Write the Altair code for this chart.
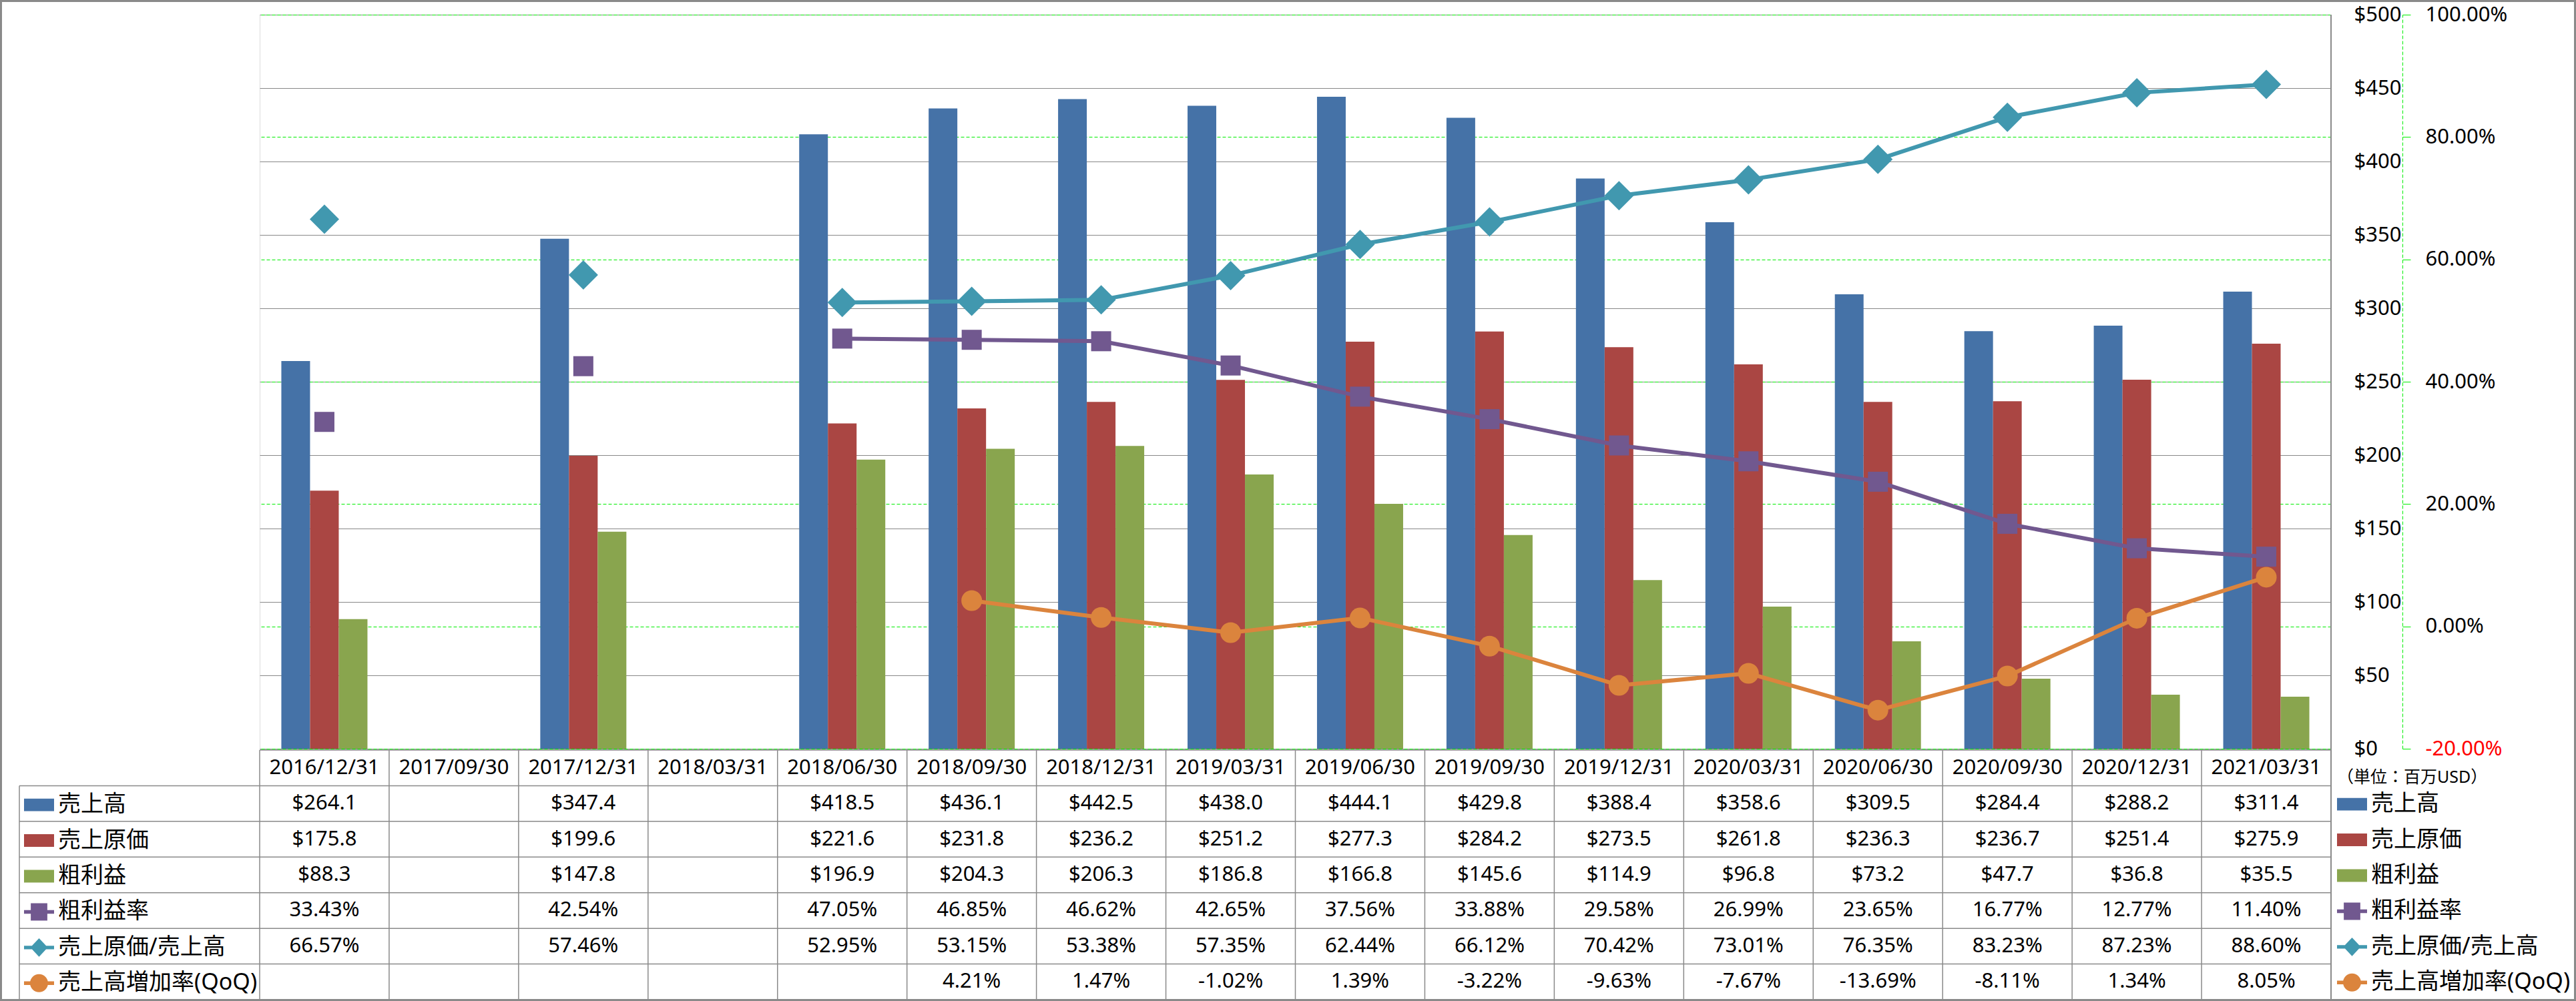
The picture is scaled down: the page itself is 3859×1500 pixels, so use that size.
import altair as alt
import pandas as pd

# ---------------- data ----------------
dates = ["2016/12/31", "2017/09/30", "2017/12/31", "2018/03/31", "2018/06/30",
         "2018/09/30", "2018/12/31", "2019/03/31", "2019/06/30", "2019/09/30",
         "2019/12/31", "2020/03/31", "2020/06/30", "2020/09/30", "2020/12/31",
         "2021/03/31"]
N = None
revenue = [264.1, N, 347.4, N, 418.5, 436.1, 442.5, 438.0, 444.1, 429.8, 388.4, 358.6, 309.5, 284.4, 288.2, 311.4]
cogs = [175.8, N, 199.6, N, 221.6, 231.8, 236.2, 251.2, 277.3, 284.2, 273.5, 261.8, 236.3, 236.7, 251.4, 275.9]
gross = [88.3, N, 147.8, N, 196.9, 204.3, 206.3, 186.8, 166.8, 145.6, 114.9, 96.8, 73.2, 47.7, 36.8, 35.5]
gm_rate = [33.43, N, 42.54, N, 47.05, 46.85, 46.62, 42.65, 37.56, 33.88, 29.58, 26.99, 23.65, 16.77, 12.77, 11.40]
cogs_ratio = [66.57, N, 57.46, N, 52.95, 53.15, 53.38, 57.35, 62.44, 66.12, 70.42, 73.01, 76.35, 83.23, 87.23, 88.60]
qoq = [N, N, N, N, N, 4.21, 1.47, -1.02, 1.39, -3.22, -9.63, -7.67, -13.69, -8.11, 1.34, 8.05]

series_names = ["売上高", "売上原価", "粗利益", "粗利益率", "売上原価/売上高", "売上高増加率(QoQ)"]
colors = ["#4572A7", "#AA4643", "#89A54E", "#71588F", "#4198AF", "#DB843D"]
unit_label = "（単位：百万USD）"
money_ticks = [0, 50, 100, 150, 200, 250, 300, 350, 400, 450, 500]
pct_ticks = [-20, 0, 20, 40, 60, 80, 100]

# ---------------- layout ----------------
FONT = "Noto Sans, Noto Sans CJK JP"
TOTAL_W, TOTAL_H = 3859, 1500
PAD_L, PAD_T = 389, 22
W, H = 3103, 1100
TABLE_TOP, TABLE_BOT = 1102, 1476
ROW_H = (TABLE_BOT - TABLE_TOP) / 7
LABEL_COL_X = -360
GRID_GRAY = "#888888"
EDGE_GRAY = "#8a8a8a"
GREEN = "#00ee00"

bar_series = series_names[:3]
bar_values = [revenue, cogs, gross]
rate_series = series_names[3:]
rate_values = [gm_rate, cogs_ratio, qoq]

bars_df = pd.DataFrame([{"date": d, "series": s, "value": v}
                        for s, vals in zip(bar_series, bar_values)
                        for d, v in zip(dates, vals) if v is not None])
rate_df = pd.DataFrame([{"date": d, "series": s, "value": v}
                        for s, vals in zip(rate_series, rate_values)
                        for d, v in zip(dates, vals)])

table_rows = [{"date": d, "row": 0.5, "v": None, "kind": "date"} for d in dates]
for i, vals in enumerate(bar_values + rate_values):
    kind = "money" if i < 3 else "pct"
    for d, v in zip(dates, vals):
        if v is not None:
            table_rows.append({"date": d, "row": i + 1.5, "v": v, "kind": kind})
table_df = pd.DataFrame(table_rows)

def X(**kw):
    return alt.X("date:N", scale=alt.Scale(domain=dates, paddingInner=0, paddingOuter=0),
                 axis=None, **kw)

money_scale = alt.Scale(domain=[0, 500], nice=False, zero=False)
pct_scale = alt.Scale(domain=[-20, 100], nice=False, zero=False)
table_scale = alt.Scale(domain=[0, 7], range=[TABLE_TOP, TABLE_BOT], nice=False, zero=False)

money_axis = alt.Axis(orient="right", offset=34, values=money_ticks,
                      labelExpr="'$' + datum.value", grid=True, gridColor=GRID_GRAY,
                      gridWidth=1.1, ticks=False, domain=False, labelPadding=0,
                      labelFont=FONT, labelFontSize=31, labelColor="black", title=None)
pct_axis = alt.Axis(orient="right", offset=107, values=pct_ticks,
                    labelExpr="replace(format(datum.value, '.2f'), '\u2212', '-') + '%'",
                    grid=True, gridColor=GREEN, gridDash=[5, 3], gridWidth=1,
                    domain=True, domainColor=GREEN, domainDash=[5, 3], domainWidth=1,
                    ticks=True, tickColor=GREEN, tickSize=12, tickWidth=1,
                    labelPadding=22, labelFont=FONT, labelFontSize=31,
                    labelColor=alt.condition("datum.value < 0", alt.value("red"), alt.value("black")),
                    title=None)

bars = alt.Chart(bars_df).mark_bar().encode(
    x=X(),
    xOffset=alt.XOffset("series:N", scale=alt.Scale(domain=bar_series, paddingInner=0, paddingOuter=0.755)),
    y=alt.Y("value:Q", scale=money_scale, axis=money_axis),
    color=alt.Color("series:N", scale=alt.Scale(domain=bar_series, range=colors[:3]), legend=None),
)

lines = alt.Chart(rate_df).mark_line(strokeWidth=6, strokeJoin="round", strokeCap="round",
                                     invalid="break-paths-show-domains").encode(
    x=X(),
    y=alt.Y("value:Q", scale=pct_scale, axis=pct_axis),
    color=alt.Color("series:N", scale=alt.Scale(domain=rate_series, range=colors[3:]), legend=None),
)

marker_specs = [("square", 900), ("diamond", 1936), ("circle", 961)]
markers = []
for s, col, (shp, sz) in zip(rate_series, colors[3:], marker_specs):
    markers.append(
        alt.Chart(rate_df).transform_filter(alt.datum.series == s)
        .mark_point(filled=True, shape=shp, size=sz, color=col, opacity=1)
        .encode(x=X(), y=alt.Y("value:Q", scale=pct_scale, axis=None))
    )

# ---------------- data table ----------------
text_expr = ("datum.kind == 'date' ? datum.date : (datum.kind == 'money' ? '$' + format(datum.v, '.1f') : "
             "replace(format(datum.v, '.2f'), '\u2212', '-') + '%')")
table_text = alt.Chart(table_df).transform_calculate(label=text_expr).mark_text(
    font=FONT, fontSize=31, color="black", align="center", baseline="middle"
).encode(x=X(), y=alt.Y("row:Q", scale=table_scale, axis=None), text="label:N")

line_style = dict(color=EDGE_GRAY, strokeWidth=1.5)
vlines = alt.Chart(pd.DataFrame({"date": dates})).mark_rule(**line_style).encode(
    x=X(bandPosition=0), y=alt.value(TABLE_TOP), y2=alt.value(TABLE_BOT))
right_edge = alt.Chart(pd.DataFrame({"a": [0]})).mark_rule(color=EDGE_GRAY, strokeWidth=2).encode(
    x=alt.value(W), y=alt.value(0), y2=alt.value(TABLE_BOT))
label_edge = alt.Chart(pd.DataFrame({"a": [0]})).mark_rule(**line_style).encode(
    x=alt.value(LABEL_COL_X), y=alt.value(TABLE_TOP + ROW_H), y2=alt.value(TABLE_BOT))
header_line = alt.Chart(pd.DataFrame({"row": [0]})).mark_rule(**line_style).encode(
    y=alt.Y("row:Q", scale=table_scale, axis=None), x=alt.value(0), x2=alt.value(W))
row_lines = alt.Chart(pd.DataFrame({"row": [1, 2, 3, 4, 5, 6]})).mark_rule(**line_style).encode(
    y=alt.Y("row:Q", scale=table_scale, axis=None), x=alt.value(LABEL_COL_X), x2=alt.value(W))
outer = alt.Chart(pd.DataFrame({"a": [0]})).mark_rect(fillOpacity=0, stroke=EDGE_GRAY, strokeWidth=3).encode(
    x=alt.value(-PAD_L + 1.5), x2=alt.value(TOTAL_W - PAD_L - 1.5),
    y=alt.value(-PAD_T + 1.5), y2=alt.value(TOTAL_H - PAD_T - 1.5))

# ---------------- legends ----------------
shape_paths = [
    "M-1,-0.42H1V0.42H-1Z",
    "M-1,-0.42H1V0.42H-1Z",
    "M-1,-0.42H1V0.42H-1Z",
    "M-1,-0.12H1V0.12H-1Z M-0.55,-0.58H0.55V0.58H-0.55Z",
    "M-1,-0.12H1V0.12H-1Z M0,-0.62L0.58,0L0,0.62L-0.58,0Z",
    "M-1,-0.12H1V0.12H-1Z M-0.6,0A0.6,0.6,0,1,1,0.6,0A0.6,0.6,0,1,1,-0.6,0Z",
]
legend_df = pd.DataFrame({"series": series_names})
ROW_PAD = ROW_H - 40.0

def make_legend(lx, ly, title=None):
    kw = dict(orient="none", legendX=lx, legendY=ly, direction="vertical", columns=1,
              symbolSize=2025, symbolStrokeWidth=0, symbolOpacity=1,
              labelFont=FONT, labelFontSize=34, labelColor="black", labelOffset=6,
              labelLimit=800, rowPadding=ROW_PAD, padding=0, labelBaseline="middle")
    if title:
        kw.update(title=title, titleFont=FONT, titleFontSize=25, titleFontWeight="normal",
                  titleColor="black", titlePadding=5, titleAnchor="start", titleLimit=1000)
    else:
        kw["title"] = None
    return alt.Legend(**kw)

def carrier(lg):
    return alt.Chart(legend_df).mark_point(filled=True, size=0, strokeWidth=0).encode(
        color=alt.Color("series:N", scale=alt.Scale(domain=series_names, range=colors), legend=lg),
        shape=alt.Shape("series:N", scale=alt.Scale(domain=series_names, range=shape_paths), legend=lg),
    )

entries_top = TABLE_TOP + ROW_H + (ROW_H - 45) / 2 + 2
left_legend = carrier(make_legend(36 - PAD_L, entries_top))
right_legend = carrier(make_legend(3501 - PAD_L, entries_top - 31, unit_label))

chart = alt.layer(
    bars, lines, *markers, table_text, vlines, label_edge, header_line, row_lines,
    outer, right_edge, left_legend, right_legend
).resolve_scale(
    y="independent", color="independent", shape="independent"
).resolve_legend(color="independent", shape="independent").properties(
    width=W, height=H, autosize="none",
    padding={"left": PAD_L, "top": PAD_T, "right": TOTAL_W - PAD_L - W, "bottom": TOTAL_H - PAD_T - H},
    background="white",
).configure_view(stroke=None).configure(font=FONT)

chart.save("out.html", embed_options={"renderer": "svg", "actions": False})
